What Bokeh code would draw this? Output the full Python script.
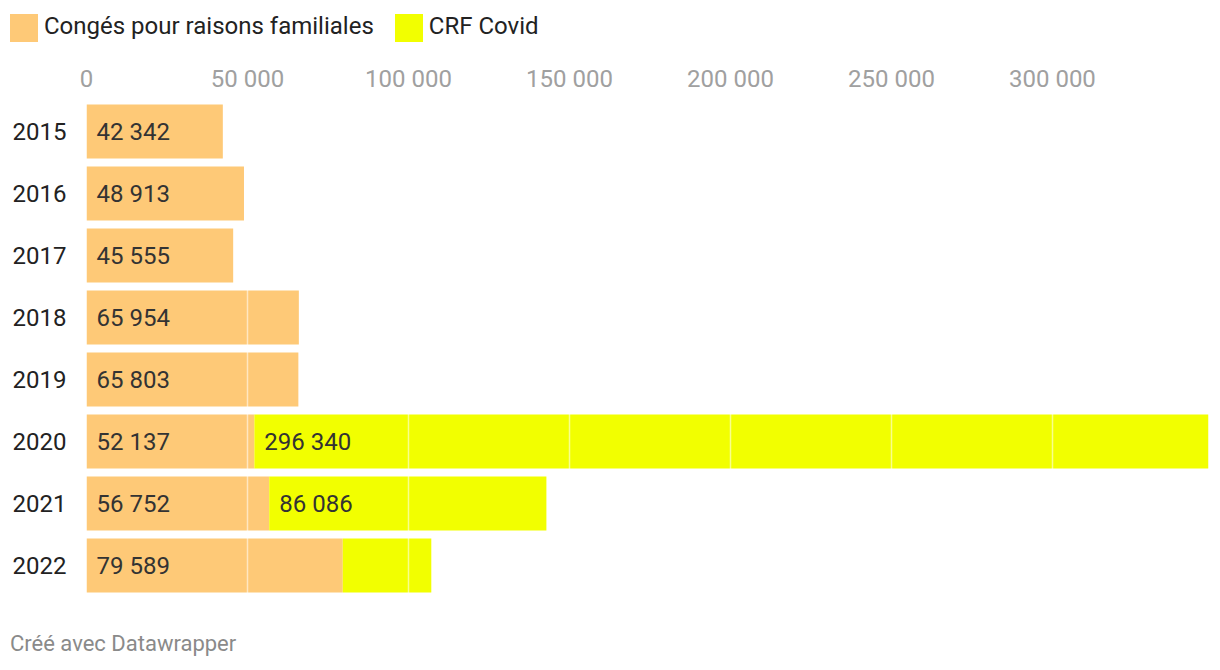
from bokeh.plotting import figure
from bokeh.models import Range1d, FactorRange, FixedTicker, Div
from bokeh.layouts import column
from bokeh.core.properties import value
from bokeh.embed import file_html
from bokeh.resources import INLINE

years = ["2015", "2016", "2017", "2018", "2019", "2020", "2021", "2022"]
conges = [42342, 48913, 45555, 65954, 65803, 52137, 56752, 79589]
crf_covid = [0, 0, 0, 0, 0, 296340, 86086, 27500]
series_names = ["Congés pour raisons familiales", "CRF Covid"]
tick_values = [0, 50000, 100000, 150000, 200000, 250000, 300000]
tick_labels = ["0", "50 000", "100 000", "150 000", "200 000", "250 000", "300 000"]
footer_text = "Créé avec Datawrapper"

ORANGE = "#fec977"
YELLOW = "#f2ff00"
COLORS = [ORANGE, YELLOW]
FONT = "Roboto"
FS = "24px"

def fmt(v):
    return f"{v:,}".replace(",", " ")

totals = [a + b for a, b in zip(conges, crf_covid)]
conges_labels = [fmt(v) for v in conges]
crf_labels = [fmt(v) if v > 50000 else "" for v in crf_covid]

# ---- legend (HTML row above the chart)
items = []
for i, (name, col) in enumerate(zip(series_names, COLORS)):
    ml = "0px" if i == 0 else "21px"
    items.append(
        f'<div style="flex:none;width:28px;height:28px;background:{col};'
        f'margin-left:{ml};margin-top:14px;"></div>'
        f'<div style="flex:none;margin-left:6px;margin-top:12px;line-height:28px;">{name}</div>'
    )
legend_html = (f'<div style="display:flex;flex-direction:row;align-items:flex-start;'
               f'font-family:{FONT};font-size:24px;color:#222222;white-space:nowrap;'
               f'padding-left:10px;">' + "".join(items) + "</div>")
legend_div = Div(text=legend_html, width=1220, height=52, margin=(0, 0, 0, 0))

# ---- chart
p = figure(width=1220, height=566, output_backend="svg", toolbar_location=None,
           x_range=Range1d(0, max(totals)), y_range=FactorRange(*reversed(years)),
           x_axis_location="above",
           min_border_left=86, min_border_right=12, min_border_top=48, min_border_bottom=22)
p.outline_line_color = None
p.background_fill_color = "white"
p.border_fill_color = "white"
p.margin = (0, 0, 0, 0)

p.hbar(y=years, left=0, right=conges, height=0.87, fill_color=ORANGE, line_color=None)
p.hbar(y=years, left=conges, right=totals, height=0.87, fill_color=YELLOW, line_color=None)

p.text(x=[0] * len(years), y=years, text=conges_labels, x_offset=10, text_baseline="middle",
       text_align="left", text_font=value(FONT), text_font_size=FS, text_color="#333333")
p.text(x=conges, y=years, text=crf_labels, x_offset=10, text_baseline="middle",
       text_align="left", text_font=value(FONT), text_font_size=FS, text_color="#333333")

xa = p.xaxis[0]
xa.ticker = FixedTicker(ticks=tick_values)
xa.major_label_overrides = {t: l for t, l in zip(tick_values, tick_labels)}
xa.axis_line_color = None
xa.major_tick_line_color = None
xa.minor_tick_line_color = None
xa.major_tick_out = 0
xa.major_tick_in = 0
xa.major_label_text_color = "#a0a0a0"
xa.major_label_text_font = FONT
xa.major_label_text_font_size = FS
xa.major_label_standoff = 8

ya = p.yaxis[0]
ya.axis_line_color = None
ya.major_tick_line_color = None
ya.minor_tick_line_color = None
ya.major_tick_out = 0
ya.major_tick_in = 0
ya.major_label_text_color = "#222222"
ya.major_label_text_font = FONT
ya.major_label_text_font_size = FS
ya.major_label_standoff = 20

p.ygrid.grid_line_color = None
p.xgrid.grid_line_color = "white"
p.xgrid.grid_line_alpha = 0.55
p.xgrid.grid_line_width = 1.5
p.xgrid.level = "overlay"

footer_html = (f'<div style="font-family:{FONT};font-size:22px;line-height:26px;color:#8a8a8a;'
               f'white-space:nowrap;padding:13px 0 0 10px;">{footer_text}</div>')
footer_div = Div(text=footer_html, width=1220, height=52, margin=(0, 0, 0, 0))

layout = column(legend_div, p, footer_div, spacing=0, margin=(0, 0, 0, 0))
open("out.html", "w").write(file_html(layout, INLINE))
